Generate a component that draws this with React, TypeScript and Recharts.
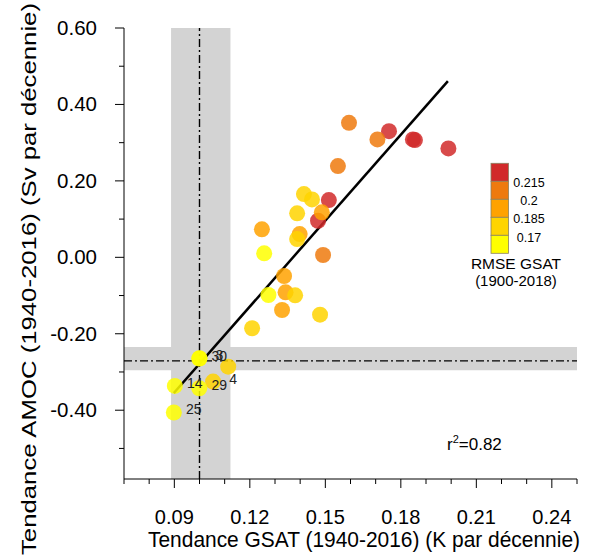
import React from "react";
import {
  ScatterChart,
  Scatter,
  XAxis,
  YAxis,
  ReferenceArea,
  ReferenceLine,
} from "recharts";

// model trends
const gsatTrend = [
  0.1753, 0.1848, 0.1856, 0.1989, 0.1514, 0.1471,
  0.1594, 0.1707, 0.155, 0.1491,
  0.1486, 0.1248, 0.1398, 0.1336, 0.1342, 0.1328,
  0.1415, 0.1447, 0.1388, 0.1388, 0.138, 0.1479, 0.1209, 0.1114, 0.1054,
  0.1257, 0.1274, 0.0999, 0.1, 0.0902, 0.0999, 0.0898,
];
const amocTrend = [
  0.33, 0.3085, 0.3067, 0.285, 0.1498, 0.0957,
  0.352, 0.3085, 0.2387, 0.006,
  0.1176, 0.0732, 0.0609, -0.0489, -0.0915, -0.1378,
  0.1655, 0.1516, 0.115, 0.0478, -0.0994, -0.15, -0.1856, -0.286, -0.325,
  0.0105, -0.0986, -0.265, -0.264, -0.3365, -0.3425, -0.406,
];
const rmseGsat = [
  0.22, 0.22, 0.22, 0.22, 0.22, 0.22,
  0.207, 0.207, 0.207, 0.207,
  0.192, 0.192, 0.192, 0.192, 0.192, 0.192,
  0.178, 0.178, 0.178, 0.178, 0.178, 0.178, 0.178, 0.178, 0.178,
  0.16, 0.16, 0.16, 0.16, 0.16, 0.16, 0.16,
];
const modelLabels = [
  "", "", "", "", "", "",
  "", "", "", "",
  "", "", "", "", "", "",
  "", "", "", "", "", "", "", "", "4",
  "", "", "30", "3", "14", "29", "25",
];

const xTicks = [
  0.07, 0.08, 0.09, 0.1, 0.11, 0.12, 0.13, 0.14, 0.15, 0.16,
  0.17, 0.18, 0.19, 0.2, 0.21, 0.22, 0.23, 0.24, 0.25,
];
const xMajor = [0.09, 0.12, 0.15, 0.18, 0.21, 0.24];
const yTicks = [-0.5, -0.4, -0.3, -0.2, -0.1, 0, 0.1, 0.2, 0.3, 0.4, 0.5, 0.6];
const yMajor = [-0.4, -0.2, 0, 0.2, 0.4, 0.6];

const rmseBreaks = [0.17, 0.185, 0.2, 0.215];
const rmseLabels = ["0.215", "0.2", "0.185", "0.17"];
const rmseColors = ["#ffff00", "#ffd400", "#ffa200", "#ee7a0e", "#d12a2a"];

// observed estimates (grey bands) and the fit line
const obsGsat = 0.1;
const obsGsatBand = [0.0887, 0.1123];
const obsAmoc = -0.271;
const obsAmocBand = [-0.2345, -0.2956];
const fitLine = [
  { x: 0.0898, y: -0.355 },
  { x: 0.1987, y: 0.461 },
];

const FONT = '"Liberation Sans", Arial, Helvetica, sans-serif';

const colorFor = (v: number) => {
  let i = 0;
  while (i < rmseBreaks.length && v >= rmseBreaks[i]) i++;
  return rmseColors[i];
};

const points = gsatTrend.map((x, i) => ({
  x,
  y: amocTrend[i],
  color: colorFor(rmseGsat[i]),
  label: modelLabels[i],
}));

const near = (v: number, list: number[]) =>
  list.some((b) => Math.abs(v - b) < 1e-6);

function AxisTick(props: any) {
  const { x, y, payload, side } = props;
  const v = payload.value;
  const vertical = side === "left" || side === "right";
  const major = near(v, vertical ? yMajor : xMajor);
  const len = major ? 9 : 5;
  let line = null;
  if (side === "bottom") line = <line x1={x} y1={y} x2={x} y2={y + len} />;
  if (side === "top") line = <line x1={x} y1={y} x2={x} y2={y - len} />;
  if (side === "left") line = <line x1={x - len} y1={y} x2={x} y2={y} />;
  if (side === "right") line = <line x1={x} y1={y} x2={x + len} y2={y} />;
  return (
    <g stroke="#000" strokeWidth={1}>
      {line}
      {side === "bottom" && major && (
        <text
          x={x}
          y={y + 45}
          textAnchor="middle"
          fontSize={20}
          fontFamily={FONT}
          fill="#000"
          stroke="none"
        >
          {v.toFixed(2)}
        </text>
      )}
      {side === "left" && major && (
        <text
          x={x - 27}
          y={y + 7}
          textAnchor="end"
          fontSize={20.5}
          fontFamily={FONT}
          fill="#000"
          stroke="none"
        >
          {v.toFixed(2)}
        </text>
      )}
    </g>
  );
}

function ModelDot(props: any) {
  const { cx, cy, payload } = props;
  return (
    <circle cx={cx} cy={cy} r={8} fill={payload.color} fillOpacity={0.85} />
  );
}

function ModelLabel(props: any) {
  const { cx, cy, payload } = props;
  if (!payload.label) return <g />;
  return (
    <text
      x={cx + 20}
      y={cy + 2}
      textAnchor="middle"
      fontSize={14}
      fontFamily={FONT}
      fill="#222"
    >
      {payload.label}
    </text>
  );
}

export default function App() {
  const axisLine = { stroke: "#000", strokeWidth: 1 };
  return (
    <div
      style={{
        position: "absolute",
        left: 0,
        top: 0,
        width: 594,
        height: 558,
        background: "#fff",
      }}
    >
      <ScatterChart
        width={594}
        height={558}
        margin={{ top: 28, right: 17, bottom: 0, left: 0 }}
      >
        <XAxis
          type="number"
          dataKey="x"
          domain={[0.07, 0.25]}
          ticks={xTicks}
          interval={0}
          allowDataOverflow
          height={79}
          tickSize={0}
          tickMargin={0}
          tickLine={false}
          axisLine={axisLine}
          tick={<AxisTick side="bottom" />}
        />
        <XAxis
          xAxisId="top"
          orientation="top"
          type="number"
          domain={[0.07, 0.25]}
          ticks={xTicks}
          interval={0}
          allowDataOverflow
          height={0}
          tickSize={0}
          tickMargin={0}
          tickLine={false}
          axisLine={axisLine}
          tick={<AxisTick side="top" />}
        />
        <YAxis
          type="number"
          dataKey="y"
          domain={[-0.58, 0.6]}
          ticks={yTicks}
          interval={0}
          allowDataOverflow
          width={124}
          tickSize={0}
          tickMargin={0}
          tickLine={false}
          axisLine={axisLine}
          tick={<AxisTick side="left" />}
        />
        <YAxis
          yAxisId="right"
          orientation="right"
          type="number"
          domain={[-0.58, 0.6]}
          ticks={yTicks}
          interval={0}
          allowDataOverflow
          width={0}
          tickSize={0}
          tickMargin={0}
          tickLine={false}
          axisLine={axisLine}
          tick={<AxisTick side="right" />}
        />
        <ReferenceArea
          x1={obsGsatBand[0]}
          x2={obsGsatBand[1]}
          fill="#d3d3d3"
          fillOpacity={1}
          stroke="none"
        />
        <ReferenceArea
          y1={obsAmocBand[0]}
          y2={obsAmocBand[1]}
          fill="#d3d3d3"
          fillOpacity={1}
          stroke="none"
        />
        <ReferenceLine
          x={obsGsat}
          stroke="#000"
          strokeWidth={1.4}
          strokeDasharray="8 3 2 3"
        />
        <ReferenceLine
          y={obsAmoc}
          stroke="#000"
          strokeWidth={1.4}
          strokeDasharray="8 3 2 3"
        />
        <Scatter
          data={points}
          shape={<ModelDot />}
          isAnimationActive={false}
        />
        <Scatter
          data={points}
          shape={<ModelLabel />}
          isAnimationActive={false}
        />
        <ReferenceLine
          segment={fitLine}
          stroke="#000"
          strokeWidth={2.5}
        />
      </ScatterChart>
      <svg
        width={594}
        height={558}
        style={{ position: "absolute", left: 0, top: 0, pointerEvents: "none" }}
        fontFamily={FONT}
      >
        <text
          x={364}
          y={547}
          textAnchor="middle"
          fontSize={21.5}
          textLength={432}
          lengthAdjust="spacingAndGlyphs"
        >
          Tendance GSAT (1940-2016) (K par décennie)
        </text>
        <text
          transform="translate(36,279) rotate(-90)"
          textAnchor="middle"
          fontSize={21}
          textLength={552}
          lengthAdjust="spacingAndGlyphs"
        >
          Tendance AMOC (1940-2016) (Sv par décennie)
        </text>
        {rmseColors
          .slice()
          .reverse()
          .map((c, i) => (
            <rect
              key={c}
              x={491}
              y={163.3 + i * 18}
              width={17.5}
              height={18}
              fill={c}
              stroke="#8a8060"
              strokeWidth={0.8}
            />
          ))}
        {rmseLabels.map((t, i) => (
          <text key={t} x={529} y={186.5 + i * 18.4} textAnchor="middle" fontSize={12.5}>
            {t}
          </text>
        ))}
        <text x={516} y={269} textAnchor="middle" fontSize={15.5}>
          RMSE GSAT
        </text>
        <text x={516} y={286} textAnchor="middle" fontSize={15}>
          (1900-2018)
        </text>
        <text x={447} y={450} fontSize={17}>
          r<tspan dy={-7} fontSize={11}>2</tspan>
          <tspan dy={7}>=0.82</tspan>
        </text>
      </svg>
    </div>
  );
}
